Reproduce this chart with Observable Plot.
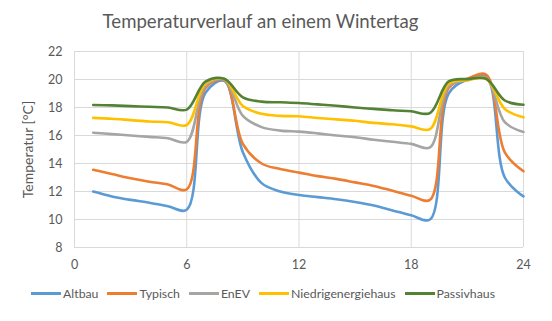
<!DOCTYPE html>
<html><head><meta charset="utf-8">
<script src="https://cdn.jsdelivr.net/npm/d3@7"></script>
<script src="https://cdn.jsdelivr.net/npm/@observablehq/plot@0.6"></script>
<style>
body{margin:0;background:#fff;font-family:Lato,sans-serif;}
#wrap{width:552px;height:321px;position:relative;overflow:hidden;background:#fff;}
#title{width:521px;height:40px;line-height:42px;text-align:center;font-size:18.6px;color:#595959;}
#chart{height:238px;}
#legend{width:526px;display:flex;justify-content:center;align-items:center;height:30px;margin-top:0px;font-size:12.3px;color:#595959;}
.item{display:flex;align-items:center;margin:0 4.5px;}
.sw{width:30px;height:3px;margin-right:2px;}
</style></head>
<body><div id="wrap"><div id="title">Temperaturverlauf an einem Wintertag</div><div id="chart"></div><div id="legend"></div></div>
<script>
const hours = [1,2,3,4,5,6,7,8,9,10,11,12,13,14,15,16,17,18,19,20,21,22,23,24];
const seriesNames = ["Altbau","Typisch","EnEV","Niedrigenergiehaus","Passivhaus"];
const seriesColors = ["#5B9BD5","#ED7D31","#A5A5A5","#FFC000","#548235"];
const altbau = [12.0,11.65,11.4,11.2,10.95,10.7,19.05,19.9,14.8,12.6,12.0,11.75,11.6,11.45,11.25,11.0,10.65,10.3,10.0,19.0,20.0,20.25,13.0,11.65];
const typisch = [13.55,13.25,12.95,12.7,12.5,12.15,19.4,19.95,15.4,14.0,13.6,13.35,13.1,12.9,12.65,12.4,12.05,11.7,11.4,19.4,20.05,20.35,14.8,13.45];
const enev = [16.2,16.1,16.0,15.9,15.8,15.55,19.55,20.0,17.4,16.6,16.35,16.28,16.15,16.0,15.87,15.7,15.55,15.4,15.15,19.55,19.95,20.1,16.95,16.25];
const niedrig = [17.26,17.2,17.1,17.0,16.95,16.75,19.72,20.05,18.1,17.55,17.4,17.37,17.25,17.15,17.05,16.9,16.8,16.65,16.45,19.7,19.95,20.05,17.9,17.3];
const passiv = [18.18,18.15,18.1,18.05,18.0,17.85,19.85,20.05,18.72,18.42,18.37,18.32,18.22,18.12,18.0,17.9,17.8,17.73,17.6,19.86,20.03,20.05,18.5,18.2];
const xTicks = [0,6,12,18,24];
const yTicks = [8,10,12,14,16,18,20,22];

const allValues = [altbau,typisch,enev,niedrig,passiv];
const rows = seriesNames.flatMap((s,i)=>allValues[i].map((v,j)=>({hour:hours[j],temp:v,series:s})));

const chart = Plot.plot({
  width:552, height:238,
  marginTop:11, marginBottom:31, marginLeft:74, marginRight:29,
  style:{fontFamily:"Lato, sans-serif", fontSize:"12.5px", color:"#595959", background:"white"},
  x:{domain:[0,24]},
  y:{domain:[8,22]},
  color:{domain:seriesNames, range:seriesColors},
  marks:[
    Plot.gridX(xTicks,{stroke:"#d9d9d9",strokeOpacity:1}),
    Plot.gridY(yTicks,{stroke:"#d9d9d9",strokeOpacity:1}),
    Plot.axisX(xTicks,{tickSize:0,tickPadding:13,label:null,fill:"#595959",fontSize:12.5}),
    Plot.axisY(yTicks,{tickSize:0,tickPadding:12,label:null,fill:"#595959",fontSize:12.5}),
    Plot.axisY([],{tickSize:0,label:"Temperatur [°C]",labelAnchor:"center",labelArrow:"none",labelOffset:51,fill:"#595959",fontSize:14}),
    Plot.line(rows,{x:"hour",y:"temp",stroke:"series",strokeWidth:2.6,curve:"catmull-rom"})
  ]
});
document.getElementById("chart").appendChild(chart);

const legend = document.getElementById("legend");
seriesNames.forEach((s,i)=>{
  const it=document.createElement("div"); it.className="item";
  const sw=document.createElement("div"); sw.className="sw"; sw.style.background=seriesColors[i];
  const t=document.createElement("span"); t.textContent=s;
  it.appendChild(sw); it.appendChild(t); legend.appendChild(it);
});
</script></body></html>
